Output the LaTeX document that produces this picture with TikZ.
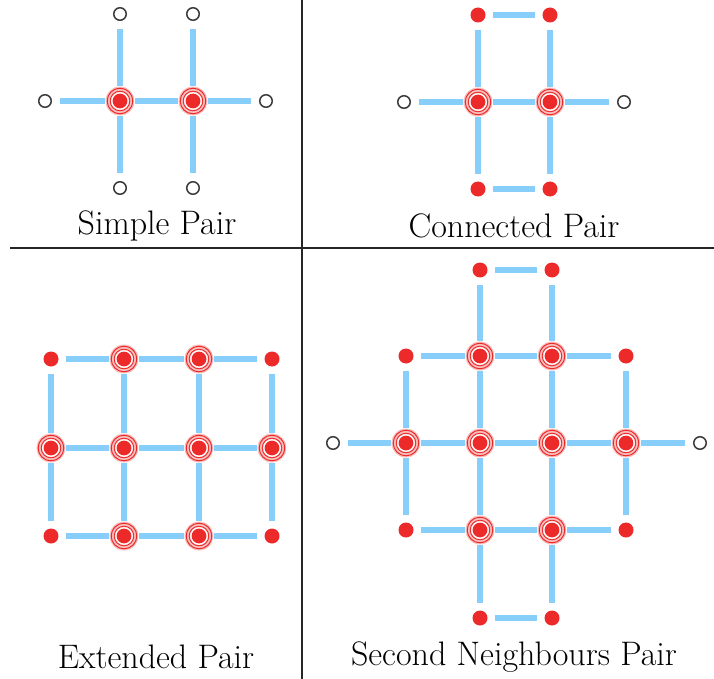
\documentclass[tikz,border=0pt]{standalone}
\usepackage{tikz}
\usetikzlibrary{positioning, calc}
\definecolor{dotred}{RGB}{236,42,42}
\definecolor{bondblue}{RGB}{135,206,250}
\definecolor{opengray}{RGB}{60,60,60}

\begin{document}
\begin{tikzpicture}[
        x=1pt, y=-1pt,
        bond/.style={bondblue, line width=6pt},
        site/.style={circle, draw=opengray, line width=1.5pt, fill=white, minimum size=12.5pt, inner sep=0pt, outer sep=9pt},
        spin/.style={circle, fill=dotred, minimum size=15pt, inner sep=0pt, outer sep=7.5pt},
        pair/.style={circle, minimum size=29pt, inner sep=0pt, outer sep=0.5pt,
            path picture={
                \fill[dotred!30] (path picture bounding box.center) circle (14.5pt);
                \draw[dotred, line width=1pt] (path picture bounding box.center) circle (12.8pt);
                \draw[dotred, line width=0.9pt] (path picture bounding box.center) circle (9.8pt);
                \fill[white] (path picture bounding box.center) circle (8.8pt);
                \fill[dotred] (path picture bounding box.center) circle (7.4pt);
            }},
        caption/.style={font=\fontsize{34}{40}\selectfont},
    ]
    \useasboundingbox (0,0) rectangle (714,679);

    % Table rules
    \draw[line width=1.2pt, black!85] (302,0) -- (302,679);
    \draw[line width=1.2pt, black!85] (10,248) -- (714,248);

    % Simple pair
    \node[pair] (sa) at (120,101) {};
    \node[pair] (sb) at (193,101) {};
    \node[site] (sat) at (120,14) {};
    \node[site] (sbt) at (193,14) {};
    \node[site] (sab) at (120,188) {};
    \node[site] (sbb) at (193,188) {};
    \node[site] (sal) at (45,101) {};
    \node[site] (sbr) at (266,101) {};
    \foreach \u/\v in {sa/sb, sa/sat, sb/sbt, sa/sab, sb/sbb, sa/sal, sb/sbr}
        \draw[bond] (\u) -- (\v);
    \node[caption] (simple) at (157,226) {Simple Pair};

    % Connected pair
    \node[pair] (ca) at (478,102) {};
    \node[pair] (cb) at (550,102) {};
    \node[spin] (cat) at (478,15) {};
    \node[spin] (cbt) at (550,15) {};
    \node[spin] (cab) at (478,189) {};
    \node[spin] (cbb) at (550,189) {};
    \node[site] (cal) at (404,102) {};
    \node[site] (cbr) at (624,102) {};
    \foreach \u/\v in {ca/cb, ca/cat, cb/cbt, ca/cab, cb/cbb, ca/cal, cb/cbr, cat/cbt, cab/cbb}
        \draw[bond] (\u) -- (\v);
    \node[caption] (connected) at (514,226) {Connected Pair};

    % Extended pair
    \node[spin] (e11) at (51,359) {};
    \node[pair] (e12) at (124,359) {};
    \node[pair] (e13) at (199,359) {};
    \node[spin] (e14) at (272,359) {};
    \node[pair] (e21) at (51,448) {};
    \node[pair] (e22) at (124,448) {};
    \node[pair] (e23) at (199,448) {};
    \node[pair] (e24) at (272,448) {};
    \node[spin] (e31) at (51,536) {};
    \node[pair] (e32) at (124,536) {};
    \node[pair] (e33) at (199,536) {};
    \node[spin] (e34) at (272,536) {};
    \foreach \r in {1,2,3}
        \foreach \c/\d in {1/2, 2/3, 3/4}
            \draw[bond] (e\r\c) -- (e\r\d);
    \foreach \c in {1,...,4}
        \foreach \r/\s in {1/2, 2/3}
            \draw[bond] (e\r\c) -- (e\s\c);
    \node[caption] (extended) at (156,657) {Extended Pair};

    % Second neighbours pair
    \node[spin] (n12) at (480,270) {};
    \node[spin] (n13) at (552,270) {};
    \node[spin] (n21) at (406,356) {};
    \node[pair] (n22) at (480,356) {};
    \node[pair] (n23) at (552,356) {};
    \node[spin] (n24) at (626,356) {};
    \node[site] (n30) at (333,443) {};
    \node[pair] (n31) at (406,443) {};
    \node[pair] (n32) at (480,443) {};
    \node[pair] (n33) at (552,443) {};
    \node[pair] (n34) at (626,443) {};
    \node[site] (n35) at (700,443) {};
    \node[spin] (n41) at (406,530) {};
    \node[pair] (n42) at (480,530) {};
    \node[pair] (n43) at (552,530) {};
    \node[spin] (n44) at (626,530) {};
    \node[spin] (n52) at (480,618) {};
    \node[spin] (n53) at (552,618) {};
    \foreach \u/\v in {n12/n13, n21/n22, n22/n23, n23/n24,
            n30/n31, n31/n32, n32/n33, n33/n34, n34/n35,
            n41/n42, n42/n43, n43/n44, n52/n53,
            n21/n31, n31/n41, n24/n34, n34/n44,
            n12/n22, n22/n32, n32/n42, n42/n52,
            n13/n23, n23/n33, n33/n43, n43/n53}
        \draw[bond] (\u) -- (\v);
    \node[caption] (second) at (514,657) {Second Neighbours Pair};
\end{tikzpicture}
\end{document}
